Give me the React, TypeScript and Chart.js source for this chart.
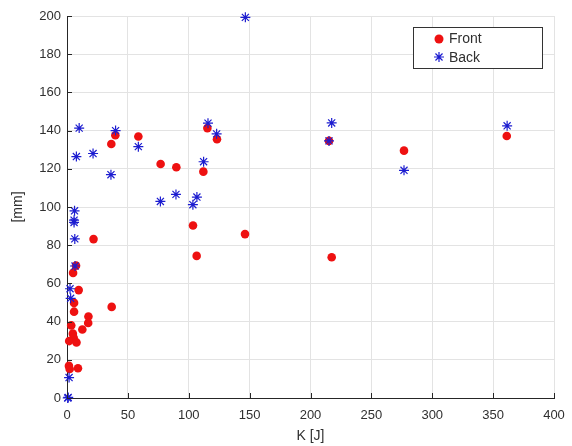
import React, { useEffect, useRef } from "react";
import { Chart, registerables } from "chart.js";

Chart.register(...registerables);

const frontK = [39.7, 36.4, 58.6, 76.9, 89.8, 112, 115.3, 123.2, 103.5, 146.2, 106.5, 215.2, 276.8, 361.2, 217.4, 21.8, 7.4, 5, 9.6, 5.8, 5.8, 17.6, 17.4, 12.6, 3.5, 4.8, 5.5, 1.8, 7.8, 1.6, 2.2, 9, 36.7];
const frontMM = [137.6, 133, 136.9, 122.5, 120.8, 118.5, 141.3, 135.5, 90.3, 85.8, 74.4, 134.6, 129.5, 137.2, 73.7, 83.2, 69.3, 65.5, 56.5, 49.8, 45.2, 42.7, 39.3, 35.9, 38, 33.7, 31.5, 29.8, 29.1, 16.8, 15.2, 15.6, 47.7];

const backK = [39.9, 58.6, 36.1, 112.2, 115.8, 122.9, 76.7, 89.5, 106.7, 103.4, 217.4, 215.2, 276.8, 361.5, 146.5, 10, 7.7, 21.4, 6.2, 5.8, 5.8, 6.4, 6.6, 2.5, 3, 1.7, 1, 0.6];
const backMM = [140, 131.6, 116.9, 123.7, 143.9, 138.3, 102.9, 106.6, 105.2, 101.2, 144, 134.6, 119.2, 142.5, 199.3, 141.3, 126.4, 128, 98, 93.1, 91.9, 83.3, 69.1, 57.2, 52.2, 10.7, 0.3, 0];

const seriesNames = ["Front", "Back"];
const xTitle = "K [J]";
const yTitle = "[mm]";

const RED = "#ee1111";
const BLUE = "#1c1cd0";
const FONT = "'Liberation Sans', Arial, sans-serif";
const TXT = "#303030";

const inwardTicks = {
  id: "inwardTicks",
  afterDatasetsDraw(chart: any) {
    const { ctx, chartArea, scales } = chart;
    ctx.save();
    ctx.strokeStyle = "#262626";
    ctx.lineWidth = 1;
    const xs = scales.x;
    const ys = scales.y;
    xs.ticks.forEach((t: any) => {
      const px = Math.round(xs.getPixelForValue(t.value)) + 0.5;
      ctx.beginPath();
      ctx.moveTo(px, chartArea.bottom);
      ctx.lineTo(px, chartArea.bottom - 5);
      ctx.stroke();
    });
    ys.ticks.forEach((t: any) => {
      const py = Math.round(ys.getPixelForValue(t.value)) + 0.5;
      ctx.beginPath();
      ctx.moveTo(chartArea.left, py);
      ctx.lineTo(chartArea.left + 5, py);
      ctx.stroke();
    });
    ctx.restore();
  },
};

const boxLegend = {
  id: "boxLegend",
  afterDraw(chart: any) {
    const { ctx } = chart;
    const x0 = 413, y0 = 27, w = 129, h = 41;
    ctx.save();
    ctx.fillStyle = "#ffffff";
    ctx.fillRect(x0, y0, w, h);
    ctx.strokeStyle = "#333333";
    ctx.lineWidth = 1;
    ctx.strokeRect(x0 + 0.5, y0 + 0.5, w, h);
    ctx.fillStyle = RED;
    ctx.beginPath();
    ctx.arc(439, 39, 4.5, 0, Math.PI * 2);
    ctx.fill();
    ctx.strokeStyle = BLUE;
    ctx.lineWidth = 1.2;
    const cx = 439, cy = 57, r = 5;
    ctx.beginPath();
    ctx.moveTo(cx - r, cy); ctx.lineTo(cx + r, cy);
    ctx.moveTo(cx, cy - r); ctx.lineTo(cx, cy + r);
    const d = r * 0.7071;
    ctx.moveTo(cx - d, cy - d); ctx.lineTo(cx + d, cy + d);
    ctx.moveTo(cx - d, cy + d); ctx.lineTo(cx + d, cy - d);
    ctx.stroke();
    ctx.fillStyle = TXT;
    ctx.font = `14px ${FONT}`;
    ctx.textBaseline = "middle";
    ctx.textAlign = "left";
    ctx.fillText(seriesNames[0], 449, 39);
    ctx.fillText(seriesNames[1], 449, 58);
    ctx.restore();
  },
};

export default function App() {
  const ref = useRef<HTMLCanvasElement | null>(null);
  useEffect(() => {
    document.body.style.margin = "0";
    const canvas = ref.current!;
    const chart = new Chart(canvas, {
      type: "scatter",
      data: {
        datasets: [
          {
            label: seriesNames[0],
            data: frontK.map((k, i) => ({ x: k, y: frontMM[i] })),
            pointStyle: "circle",
            pointRadius: 4.3,
            backgroundColor: RED,
            borderColor: RED,
            borderWidth: 0,
            order: 1,
            clip: false,
          } as any,
          {
            label: seriesNames[1],
            data: backK.map((k, i) => ({ x: k, y: backMM[i] })),
            pointStyle: "star",
            pointRadius: 5,
            backgroundColor: BLUE,
            borderColor: BLUE,
            borderWidth: 1.2,
            order: 0,
            clip: false,
          } as any,
        ],
      },
      options: {
        responsive: false,
        animation: false,
        events: [],
        layout: { padding: { top: 16, right: 18, left: 0, bottom: 0 } },
        plugins: { legend: { display: false }, tooltip: { enabled: false } },
        scales: {
          x: {
            type: "linear",
            min: 0,
            max: 400,
            afterFit: (s: any) => { s.height = 48; s.paddingRight = 0; s.paddingLeft = 0; },
            ticks: { stepSize: 50, color: TXT, font: { family: FONT, size: 13 }, padding: 10 },
            grid: { color: "#e3e3e3", drawTicks: false },
            border: { color: "#262626", width: 1 },
            title: { display: true, text: xTitle, color: TXT, font: { family: FONT, size: 14 }, padding: { top: 0, bottom: 1 } },
          },
          y: {
            type: "linear",
            min: 0,
            max: 200,
            afterFit: (s: any) => { s.width = 67; s.paddingTop = 0; s.paddingBottom = 0; },
            ticks: { stepSize: 20, color: TXT, font: { family: FONT, size: 13 }, padding: 6 },
            grid: { color: "#e3e3e3", drawTicks: false },
            border: { color: "#262626", width: 1 },
            title: { display: true, text: yTitle, color: TXT, font: { family: FONT, size: 14 }, padding: { top: 10, bottom: 0 } },
          },
        },
      },
      plugins: [inwardTicks, boxLegend],
    });
    return () => chart.destroy();
  }, []);
  return (
    <div style={{ position: "fixed", left: 0, top: 0, width: 572, height: 446, background: "#fff" }}>
      <canvas ref={ref} width={572} height={446} />
    </div>
  );
}
